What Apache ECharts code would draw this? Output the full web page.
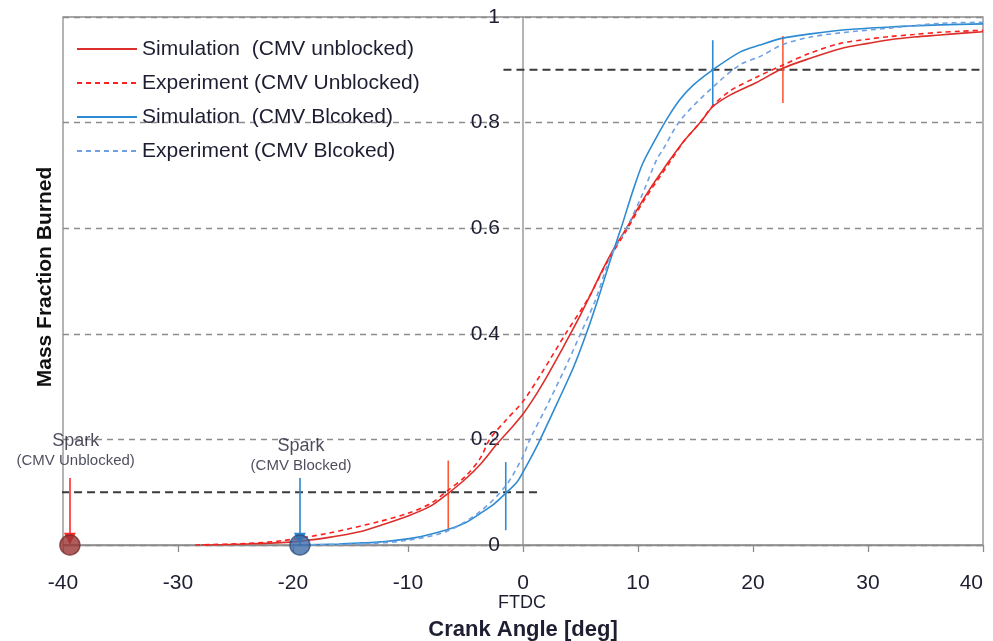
<!DOCTYPE html>
<html>
<head>
<meta charset="utf-8">
<script src="https://cdn.jsdelivr.net/npm/echarts@6/dist/echarts.min.js"></script>
<style>
  html, body { margin: 0; padding: 0; background: #fff; }
  #chart { width: 993px; height: 641px; }
</style>
</head>
<body>
<div id="chart"></div>
<script>
// crank angle [deg] / mass fraction burned
var angleSimUnblk = [-28, -24, -20, -17, -14, -12.4, -10, -8, -6.5, -5, -3.7, -2.2, -1, 0, 1, 2, 3, 4, 5, 6, 7, 8, 9, 10, 11, 12, 12.8, 14, 15.4, 16.5, 18, 20.3, 22.6, 25, 27.6, 30, 31.9, 34, 36.3, 38, 40];
var mfbSimUnblk   = [0, 0.002, 0.006, 0.014, 0.026, 0.037, 0.055, 0.074, 0.098, 0.125, 0.153, 0.193, 0.222, 0.248, 0.28, 0.316, 0.355, 0.395, 0.436, 0.48, 0.525, 0.565, 0.6, 0.638, 0.673, 0.705, 0.73, 0.765, 0.8, 0.83, 0.852, 0.876, 0.903, 0.922, 0.94, 0.95, 0.957, 0.962, 0.966, 0.969, 0.972];

var angleExpUnblk = [-28.5, -24, -21, -17, -12.4, -10, -8, -6.5, -5, -3.7, -2.9, -1.5, 0, 1.6, 3.7, 5.7, 7.3, 9, 10.5, 12.8, 14, 15.4, 16.5, 18, 20.3, 22.6, 25, 27.6, 30, 31.9, 34, 36.3, 38, 40];
var mfbExpUnblk   = [0, 0.003, 0.008, 0.022, 0.045, 0.06, 0.079, 0.104, 0.13, 0.165, 0.2, 0.236, 0.272, 0.325, 0.4, 0.468, 0.535, 0.596, 0.652, 0.726, 0.765, 0.8, 0.832, 0.86, 0.886, 0.909, 0.932, 0.95, 0.958, 0.963, 0.967, 0.971, 0.973, 0.975];

var angleSimBlk = [-20, -16, -14, -12.4, -9.6, -6.6, -5, -3.7, -2.5, -1.5, -0.5, 0, 0.9, 1.5, 3, 4.4, 5.5, 6.5, 7.6, 8.6, 9.5, 10.4, 11.6, 12.6, 13.7, 14.8, 16.5, 18.9, 20.6, 22.6, 25, 27.6, 31.9, 36.3, 40];
var mfbSimBlk   = [0, 0.002, 0.004, 0.006, 0.013, 0.029, 0.042, 0.06, 0.078, 0.098, 0.12, 0.138, 0.174, 0.2, 0.27, 0.337, 0.4, 0.464, 0.54, 0.605, 0.667, 0.722, 0.772, 0.81, 0.845, 0.871, 0.9, 0.934, 0.947, 0.96, 0.968, 0.975, 0.981, 0.985, 0.987];

var angleExpBlk = [-20, -14, -10, -6.6, -3.7, -1.5, 0, 0.6, 2, 3.7, 5, 6.3, 7.6, 9, 10.3, 11.6, 12.2, 13.7, 16.5, 18.9, 20.6, 22.6, 25, 27.6, 31.9, 36.3, 40];
var mfbExpBlk   = [0, 0.002, 0.009, 0.026, 0.064, 0.112, 0.168, 0.2, 0.26, 0.337, 0.4, 0.464, 0.545, 0.6, 0.66, 0.729, 0.75, 0.805, 0.867, 0.91, 0.925, 0.948, 0.962, 0.97, 0.979, 0.988, 0.99];

var xTicks = [-40, 40, 10];
var yTicks = [0, 1, 0.2];

// 10% / 90% burn guide lines and the markers on them
var guide10 = [[-41.3, 0.1], [1.3, 0.1]];
var guide90 = [[-1.7, 0.9], [40.8, 0.9]];
var mark10Unblk = [[-6.5, 0.03], [-6.5, 0.16]];
var mark10Blk   = [[-1.5, 0.028], [-1.5, 0.157]];
var mark90Blk   = [[16.5, 0.83], [16.5, 0.956]];
var mark90Unblk = [[22.6, 0.837], [22.6, 0.964]];
var tdcLine = [[0, 0], [0, 1]];

// spark timing
var sparkUnblk = -39.4;
var sparkBlk = -19.4;

var FONT = '"Liberation Sans", Arial, sans-serif';
var INK = '#1e1e32';
var AXIS = '#8c8c8c';
var RED = '#dc2f2a', RED2 = '#ff1f1f', BLUE = '#2d8bd2', BLUE2 = '#6fa0e2';

function pairs(xs, ys) { return xs.map(function (x, i) { return [x, ys[i]]; }); }

function curve(name, xs, ys, color, dashed) {
  return {
    name: name, type: 'line', data: pairs(xs, ys),
    symbol: 'none', showSymbol: false, smooth: 0.3,
    lineStyle: { color: color, width: 1.6, type: dashed ? [5, 4] : 'solid' },
    itemStyle: { color: color }, z: 3
  };
}

function seg(pts, color, width, dash) {
  return {
    type: 'line', data: pts, symbol: 'none', clip: false, silent: true,
    lineStyle: { color: color, width: width, type: dash || 'solid' }, z: 2
  };
}

function arrow(x, color) {
  return {
    type: 'line', data: [], silent: true,
    markLine: {
      silent: true, symbol: ['none', 'triangle'], symbolSize: [12, 12],
      label: { show: false },
      lineStyle: { color: color, width: 1.6, type: 'solid' },
      data: [[{ coord: [x, 0.127] }, { coord: [x, 0.012] }]]
    }
  };
}

var chart = echarts.init(document.getElementById('chart'));
chart.setOption({
  animation: false,
  backgroundColor: '#fff',
  textStyle: { fontFamily: FONT },
  grid: { left: 63, right: 10, top: 17, bottom: 96, outerBoundsMode: 'none', containLabel: false,
          show: true, borderColor: AXIS, borderWidth: 1.3 },
  legend: {
    orient: 'vertical', left: 71, top: 32,
    itemWidth: 60, itemHeight: 14, itemGap: 10,
    itemStyle: { opacity: 0 },
    textStyle: { fontSize: 21, color: INK, lineHeight: 24, fontFamily: FONT },
    data: ['Simulation  (CMV unblocked)', 'Experiment (CMV Unblocked)', 'Simulation  (CMV Blcoked)', 'Experiment (CMV Blcoked)']
  },
  xAxis: {
    type: 'value', min: xTicks[0], max: xTicks[1], interval: xTicks[2],
    axisLine: { show: true, onZero: false, lineStyle: { color: AXIS, width: 1.3 } },
    axisTick: { show: true, inside: false, length: 7, lineStyle: { color: AXIS, width: 1.3 } },
    axisLabel: { fontSize: 21, color: INK, margin: 28, fontFamily: FONT, alignMaxLabel: 'right' },
    splitLine: { show: false },
    name: 'Crank Angle [deg]', nameLocation: 'middle', nameGap: 74,
    nameTextStyle: { fontSize: 22, fontWeight: 'bold', color: INK, fontFamily: FONT }
  },
  yAxis: {
    type: 'value', min: yTicks[0], max: yTicks[1], interval: yTicks[2],
    axisLine: { show: false },
    axisTick: { show: false },
    // labels sit beside the x = 0 line, not at the left edge
    axisLabel: { fontSize: 21, color: INK, margin: -437, fontFamily: FONT },
    splitLine: { show: true, lineStyle: { color: AXIS, width: 1.3, type: [6, 5] } }
  },
  graphic: [
    { type: 'text', x: 45, y: 277, rotation: Math.PI / 2,
      style: { text: 'Mass Fraction Burned', fill: '#111', font: 'bold 21px ' + FONT, textAlign: 'center', textVerticalAlign: 'middle' } },
    { type: 'text', x: 522, y: 603,
      style: { text: 'FTDC', fill: INK, font: '18px ' + FONT, textAlign: 'center', textVerticalAlign: 'middle' } }
  ],
  series: [
    seg(tdcLine, AXIS, 1.3),
    seg(guide10, '#3a3a3a', 2, [8, 5]),
    seg(guide90, '#3a3a3a', 2, [8, 5]),
    seg(mark10Unblk, '#ff5a36', 1.6),
    seg(mark90Unblk, '#ff5a36', 1.6),
    seg(mark10Blk, BLUE, 1.6),
    seg(mark90Blk, BLUE, 1.6),
    curve('Simulation  (CMV unblocked)', angleSimUnblk, mfbSimUnblk, RED, false),
    curve('Experiment (CMV Unblocked)', angleExpUnblk, mfbExpUnblk, RED2, true),
    curve('Simulation  (CMV Blcoked)', angleSimBlk, mfbSimBlk, BLUE, false),
    curve('Experiment (CMV Blcoked)', angleExpBlk, mfbExpBlk, BLUE2, true),
    arrow(sparkUnblk, '#ff2a2a'),
    arrow(sparkBlk, '#2d86cc'),
    {
      type: 'scatter', clip: false, symbolSize: 20, z: 5, silent: true,
      data: [
        { value: [sparkUnblk, 0], itemStyle: { color: '#9a3535', borderColor: '#7a2a2a', borderWidth: 1.5 } },
        { value: [sparkBlk, 0], itemStyle: { color: '#3f6ca8', borderColor: '#2c4f80', borderWidth: 1.5 } }
      ]
    },
    {
      type: 'scatter', clip: false, symbolSize: 0, silent: true, z: 6,
      label: {
        show: true, position: 'inside', align: 'center', verticalAlign: 'middle',
        formatter: function (p) { return '{a|Spark}\n{b|' + p.name + '}'; },
        rich: {
          a: { fontSize: 18, color: INK, lineHeight: 20, fontFamily: FONT },
          b: { fontSize: 15, color: INK, lineHeight: 20, fontFamily: FONT }
        }
      },
      data: [
        { name: '(CMV Unblocked)', value: [-38.9, 0.178] },
        { name: '(CMV Blocked)', value: [-19.3, 0.168] }
      ]
    }
  ]
});
</script>
</body>
</html>
